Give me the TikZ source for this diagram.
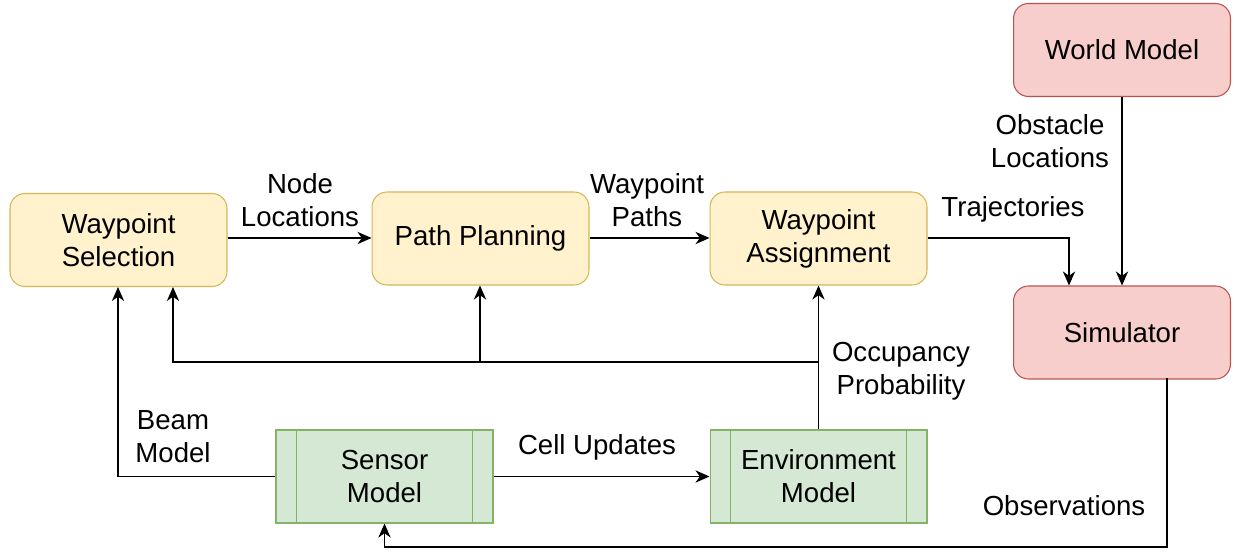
\documentclass[tikz,border=0pt]{standalone}
\usepackage{fontspec}
\setmainfont{Liberation Sans}
\usetikzlibrary{arrows.meta}

\begin{document}
\begin{tikzpicture}[x=0.02cm,y=-0.02cm]
\tikzset{every node/.style={font=\fontsize{15.7}{18.7}\selectfont},
  blk/.style={rectangle,minimum width=4.34cm,minimum height=1.86cm,align=center,line width=0.6pt},
  yellowblk/.style={blk,rounded corners=0.3cm,draw={rgb,255:red,214;green,182;blue,86},fill={rgb,255:red,255;green,242;blue,204}},
  redblk/.style={blk,rounded corners=0.3cm,draw={rgb,255:red,184;green,84;blue,80},fill={rgb,255:red,248;green,206;blue,204}},
  greenblk/.style={blk,draw={rgb,255:red,130;green,179;blue,102},fill={rgb,255:red,213;green,232;blue,212}},
  lbl/.style={align=center,inner sep=0pt},
  conn/.style={line width=0.7pt,-{Stealth[length=8pt,width=7pt,inset=2.5pt]}}}
\useasboundingbox (0,0) rectangle (1233,551);
% blocks
\node[yellowblk] (ws) at (118.5,240) {Waypoint\\Selection};
\node[yellowblk] (pp) at (480.5,238.5) {Path Planning};
\node[yellowblk] (wa) at (818.5,238.5) {Waypoint\\Assignment};
\node[redblk] (wm) at (1122,50) {World Model};
\node[redblk] (sim) at (1122,332.5) {Simulator};
\node[greenblk] (sm) at (384.5,476.5) {Sensor\\Model};
\node[greenblk] (em) at (818.5,476.5) {Environment\\Model};
% process bars
\foreach \b in {sm,em} {
  \draw[draw={rgb,255:red,130;green,179;blue,102},line width=0.6pt] ([xshift=0.42cm]\b.north west) -- ([xshift=0.42cm]\b.south west);
  \draw[draw={rgb,255:red,130;green,179;blue,102},line width=0.6pt] ([xshift=-0.42cm]\b.north east) -- ([xshift=-0.42cm]\b.south east);
}
% helper points
\coordinate (traj) at (1069,238);
\coordinate (fb) at (818,362);
\coordinate (obs) at (1167,547);
% connectors
\draw[conn] (ws.east |- 0,238) -- (pp.west |- 0,238);
\draw[conn] (pp.east |- 0,238) -- (wa.west |- 0,238);
\draw[conn] (wa.east |- traj) -- (traj) -- (traj |- sim.north);
\draw[conn] (wm.south) -- (sim.north -| wm.south);
\draw[conn] (em.north) -- (wa.south);
\draw[conn] (fb) -- (173,362) -- (ws.south -| 173,0);
\draw[conn] (480,362) -- (pp.south -| 480,0);
\draw[conn] (sm.west) -- (118,476.5) -- (ws.south -| 118,0);
\draw[conn] (sm.east) -- (em.west);
\draw[conn] (1167,378) -- (obs) -- (384.5,547) -- (sm.south);
% labels
\node[lbl] (l1) at (300,200) {Node\\Locations};
\node[lbl] (l2) at (647,200) {Waypoint\\Paths};
\node[lbl] (l3) at (1013,209) {Trajectories};
\node[lbl] (l4) at (1050,141) {Obstacle\\Locations};
\node[lbl] (l5) at (901,371) {Occupancy\\Probability};
\node[lbl] (l6) at (173,437) {Beam\\Model};
\node[lbl] (l7) at (597,447) {Cell Updates};
\node[lbl] (l8) at (1064,506) {Observations};
\end{tikzpicture}
\end{document}
